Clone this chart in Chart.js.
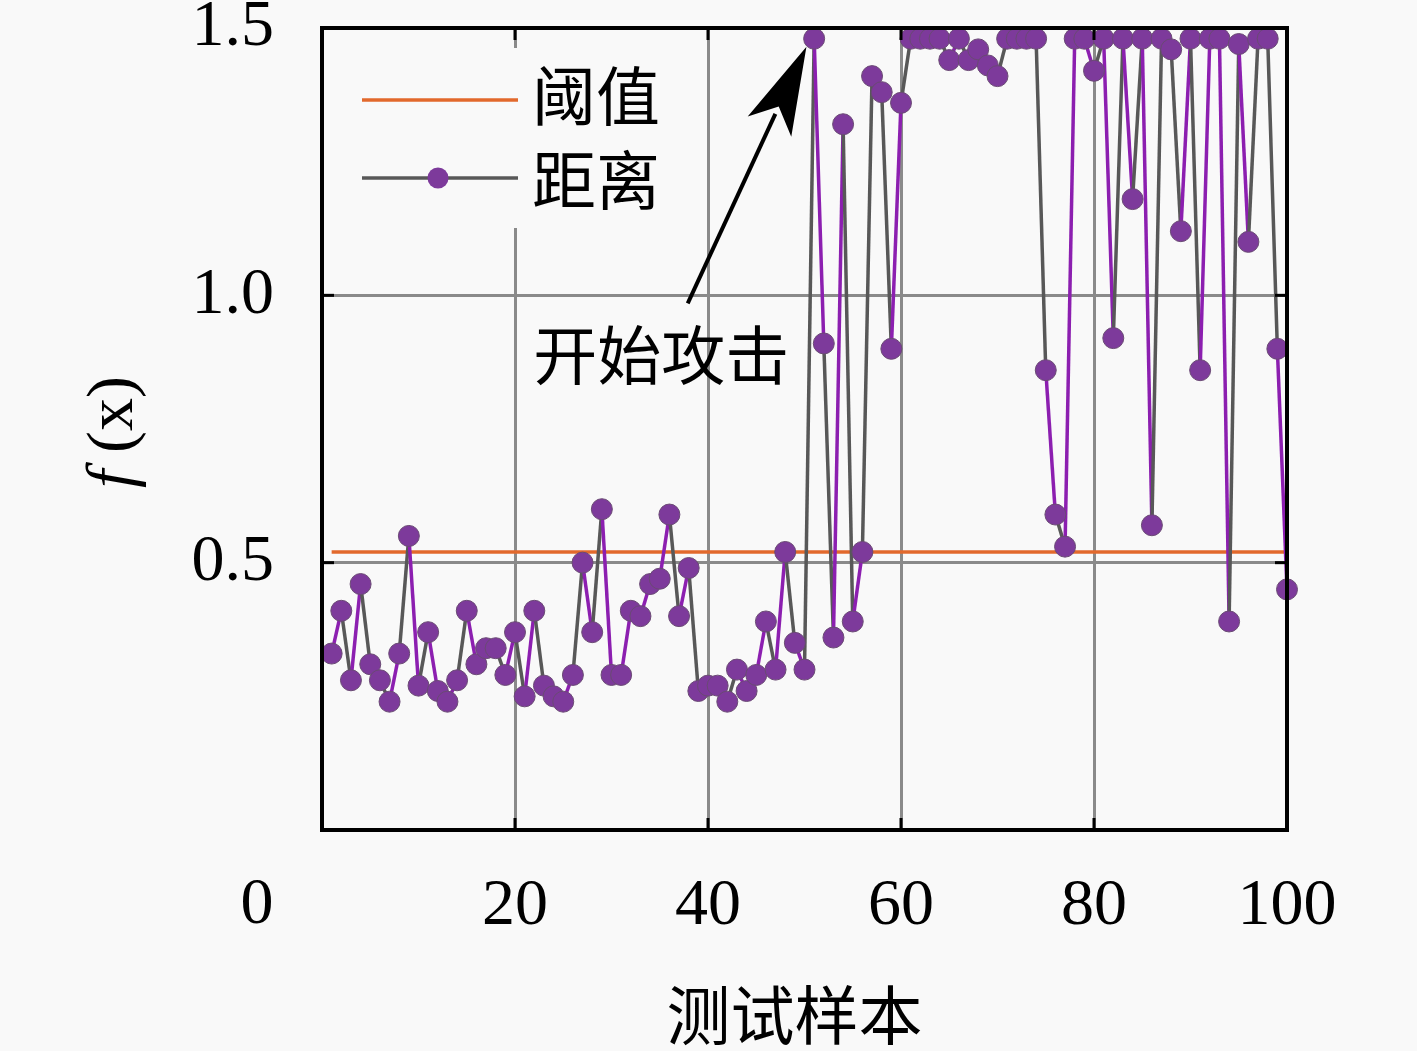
<!DOCTYPE html>
<html>
<head>
<meta charset="utf-8">
<script src="https://cdn.jsdelivr.net/npm/chart.js@4.4.1/dist/chart.umd.min.js"></script>
<style>
  html,body{margin:0;padding:0;background:#f9f9f9;}
  #wrap{width:1417px;height:1051px;position:relative;}
</style>
</head>
<body>
<div id="wrap"><canvas id="c"></canvas></div>
<script>
// sample index (测试样本) and distance value f(x) per sample
const samples = [
  1,2,3,4,5,6,7,8,9,10,11,12,13,14,15,16,17,18,19,20,
  21,22,23,24,25,26,27,28,29,30,31,32,33,34,35,36,37,38,39,40,
  41,42,43,44,45,46,47,48,49,50,51,52,53,54,55,56,57,58,59,60,
  61,62,63,64,65,66,67,68,69,70,71,72,73,74,75,76,77,78,79,80,
  81,82,83,84,85,86,87,88,89,90,91,92,93,94,95,96,97,98,99,100
];
const distance = [
  0.33,0.41,0.28,0.46,0.31,0.28,0.24,0.33,0.55,0.27,
  0.37,0.26,0.24,0.28,0.41,0.31,0.34,0.34,0.29,0.37,
  0.25,0.41,0.27,0.25,0.24,0.29,0.50,0.37,0.60,0.29,
  0.29,0.41,0.40,0.46,0.47,0.59,0.40,0.49,0.26,0.27,
  0.27,0.24,0.30,0.26,0.29,0.39,0.30,0.52,0.35,0.30,
  1.48,0.91,0.36,1.32,0.39,0.52,1.41,1.38,0.90,1.36,
  1.48,1.48,1.48,1.48,1.44,1.48,1.44,1.46,1.43,1.41,
  1.48,1.48,1.48,1.48,0.86,0.59,0.53,1.48,1.48,1.42,
  1.48,0.92,1.48,1.18,1.48,0.57,1.48,1.46,1.12,1.48,
  0.86,1.48,1.48,0.39,1.47,1.10,1.48,1.48,0.90,0.45
];
const threshold = 0.52;
const thresholdSpan = [1, 100];
const xTicks = [0, 20, 40, 60, 80, 100];
const yTicks = [0, 0.5, 1.0, 1.5];

// annotation (data units)
const arrowFrom = [37.9, 0.985];
const arrowTo = [50.2, 1.465];
const arrowLabelAt = [21.9, 0.889];
const arrowLabel = "开始攻击";
const legendLabels = ["阈值", "距离"];
const xTitle = "测试样本";

const ORANGE = "#e2692c";
const PURPLE = "#8c1fb0";
const GRAYLINE = "#585858";
const MARKER = "#7d3a9b";
const SERIF = "'Liberation Serif', 'DejaVu Serif', serif";
const CJK = "'Noto Sans CJK SC', sans-serif";

const decor = {
  id: "decor",
  afterDatasetsDraw(chart){
    const {ctx, chartArea:a} = chart;
    ctx.save();
    // legend box (covers grid)
    ctx.fillStyle = "#f9f9f9";
    ctx.fillRect(a.left+2, a.top+20, 205, 180);
    ctx.lineWidth = 3.5;
    ctx.strokeStyle = ORANGE;
    ctx.beginPath(); ctx.moveTo(a.left+40, a.top+72); ctx.lineTo(a.left+196, a.top+72); ctx.stroke();
    ctx.strokeStyle = GRAYLINE;
    ctx.beginPath(); ctx.moveTo(a.left+40, a.top+150); ctx.lineTo(a.left+196, a.top+150); ctx.stroke();
    ctx.fillStyle = MARKER;
    ctx.beginPath(); ctx.arc(a.left+116, a.top+150, 10.5, 0, Math.PI*2); ctx.fill();
    ctx.fillStyle = "#000";
    ctx.font = "64px " + CJK;
    ctx.textBaseline = "middle";
    ctx.textAlign = "left";
    ctx.fillText(legendLabels[0], a.left+210, a.top+68);
    ctx.fillText(legendLabels[1], a.left+210, a.top+152);
    ctx.restore();
  },
  afterDraw(chart){
    const {ctx, chartArea:a, scales:{x, y}} = chart;
    ctx.save();
    // inward ticks
    ctx.strokeStyle = "#000"; ctx.lineWidth = 3;
    xTicks.slice(1,-1).forEach(v=>{
      const px = x.getPixelForValue(v);
      ctx.beginPath(); ctx.moveTo(px, a.top); ctx.lineTo(px, a.top+12); ctx.stroke();
      ctx.beginPath(); ctx.moveTo(px, a.bottom); ctx.lineTo(px, a.bottom-12); ctx.stroke();
    });
    yTicks.slice(1,-1).forEach(v=>{
      const py = y.getPixelForValue(v);
      ctx.beginPath(); ctx.moveTo(a.left, py); ctx.lineTo(a.left+12, py); ctx.stroke();
      ctx.beginPath(); ctx.moveTo(a.right, py); ctx.lineTo(a.right-12, py); ctx.stroke();
    });
    // frame
    ctx.lineWidth = 4;
    ctx.strokeRect(a.left, a.top, a.right-a.left, a.bottom-a.top);

    // arrow
    const x0 = x.getPixelForValue(arrowFrom[0]), y0 = y.getPixelForValue(arrowFrom[1]);
    const x1 = x.getPixelForValue(arrowTo[0]), y1 = y.getPixelForValue(arrowTo[1]);
    const dx = x1-x0, dy = y1-y0, len = Math.hypot(dx,dy);
    const ux = dx/len, uy = dy/len, hl = 88, hw = 24;
    const bx = x1-ux*hl, by = y1-uy*hl;
    ctx.lineWidth = 4;
    ctx.beginPath(); ctx.moveTo(x0,y0); ctx.lineTo(bx+ux*14, by+uy*14); ctx.stroke();
    ctx.fillStyle = "#000";
    ctx.beginPath();
    ctx.moveTo(x1,y1);
    ctx.lineTo(bx-uy*hw, by+ux*hw);
    ctx.lineTo(bx+ux*22, by+uy*22);
    ctx.lineTo(bx+uy*hw, by-ux*hw);
    ctx.closePath(); ctx.fill();

    ctx.font = "64px " + CJK;
    ctx.textBaseline = "middle"; ctx.textAlign = "left";
    ctx.fillText(arrowLabel, x.getPixelForValue(arrowLabelAt[0]), y.getPixelForValue(arrowLabelAt[1]));

    // x title
    ctx.textAlign = "center";
    ctx.fillText(xTitle, (a.left+a.right)/2 - 10, a.bottom + 185);

    // lone "0" label
    ctx.font = "66px " + SERIF;
    ctx.fillText("0", a.left - 65, a.bottom + 76);

    // y title: italic f + (x), rotated
    ctx.translate(a.left - 207, (a.top+a.bottom)/2 + 3);
    ctx.rotate(-Math.PI/2);
    ctx.textAlign = "left";
    ctx.font = "italic 66px " + SERIF;
    const fW = ctx.measureText("f").width;
    ctx.font = "66px " + SERIF;
    const restW = ctx.measureText(" (x)").width;
    let sx = -(fW + restW)/2;
    ctx.font = "italic 66px " + SERIF;
    ctx.fillText("f", sx, 0);
    ctx.font = "66px " + SERIF;
    ctx.fillText(" (x)", sx + fW, 0);
    ctx.restore();
  }
};

new Chart(document.getElementById("c"), {
  type: "line",
  data: {
    datasets: [
      {
        label: legendLabels[0],
        data: thresholdSpan.map(v=>({x:v, y:threshold})),
        borderColor: ORANGE, borderWidth: 3.5, pointRadius: 0, order: 2
      },
      {
        label: legendLabels[1],
        data: samples.map((s,i)=>({x:s, y:distance[i]})),
        borderColor: GRAYLINE, borderWidth: 3.5, clip: false,
        segment: { borderColor: c => (c.p0DataIndex % 2 === 0 ? PURPLE : GRAYLINE) },
        pointRadius: 10.5, pointBackgroundColor: MARKER,
        pointBorderColor: "#6a4a74", pointBorderWidth: 1,
        order: 1
      }
    ]
  },
  options: {
    responsive: true, maintainAspectRatio: false, animation: false,
    devicePixelRatio: 1,
    layout: { padding: { top: 28, right: 130, left: 0, bottom: 0 } },
    plugins: { legend: { display: false }, tooltip: { enabled: false } },
    scales: {
      x: {
        type: "linear", min: 0, max: 100,
        afterBuildTicks: s => { s.ticks = xTicks.map(v=>({value:v})); },
        afterFit: s => { s.height = 221; s.paddingLeft = 0; s.paddingRight = 0; },
        ticks: { callback: v => (v === 0 ? "" : String(v)), color: "#000",
                 font: { family: SERIF, size: 66 }, padding: 37, maxRotation: 0 },
        grid: { drawTicks: false, lineWidth: 3,
                color: c => (c.tick && (c.tick.value === 0 || c.tick.value === 100) ? "rgba(0,0,0,0)" : "#8a8a8a") },
        border: { display: false }
      },
      y: {
        type: "linear", min: 0, max: 1.5,
        afterBuildTicks: s => { s.ticks = yTicks.map(v=>({value:v})); },
        afterFit: s => { s.width = 322; s.paddingTop = 0; s.paddingBottom = 0; },
        ticks: { callback: v => (v === 0 ? "" : v.toFixed(1)), color: "#000",
                 font: { family: SERIF, size: 66 }, padding: 48 },
        grid: { drawTicks: false, lineWidth: 3,
                color: c => (c.tick && (c.tick.value === 0 || c.tick.value === 1.5) ? "rgba(0,0,0,0)" : "#8a8a8a") },
        border: { display: false }
      }
    }
  },
  plugins: [decor]
});
</script>
</body>
</html>
